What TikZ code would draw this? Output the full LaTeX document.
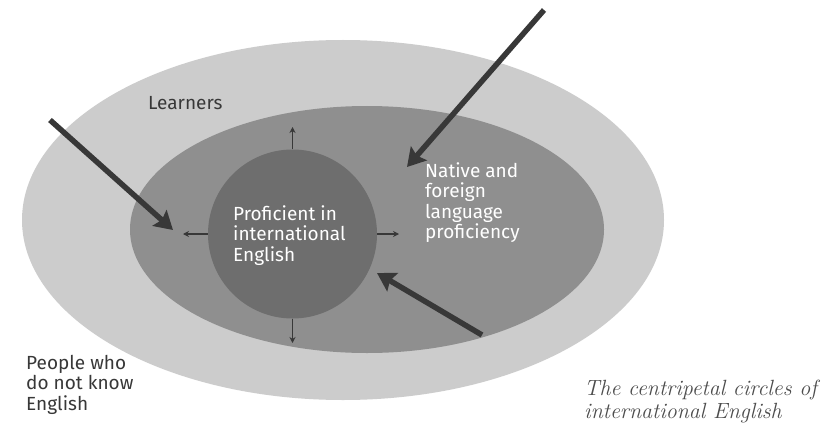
\documentclass[tikz,border=0pt]{standalone}
\usepackage{fontspec}
\setsansfont{Fira Sans}
\usetikzlibrary{shapes.geometric,arrows.meta,positioning}
\definecolor{ringlight}{gray}{0.80}
\definecolor{ringmid}{gray}{0.56}
\definecolor{ringcore}{gray}{0.43}
\definecolor{arrowgray}{gray}{0.22}
\definecolor{labelgray}{gray}{0.22}
\definecolor{captiongray}{gray}{0.30}

\begin{document}
\begin{tikzpicture}[x=1pt,y=-1pt,
  zone/.style={ellipse,inner sep=0pt},
  ringtext/.style={font=\sffamily\fontsize{19}{20.5}\selectfont,align=left,inner sep=0pt,anchor=north west},
  push/.style={line width=5.5pt,arrowgray,-{Stealth[length=18pt,width=21pt,inset=3pt]}},
  spread/.style={line width=1.3pt,arrowgray,-{Stealth[length=6pt,width=6pt]}}]
\useasboundingbox (0,0) rectangle (829,441);
\fill[white] (0,0) rectangle (829,441);
% the three centripetal circles
\node[zone,fill=ringlight,minimum width=642pt,minimum height=360pt] (outer) at (343,220) {};
\node[zone,fill=ringmid,minimum width=474pt,minimum height=247pt] (middle) at (367,229.5) {};
\node[circle,fill=ringcore,minimum size=169pt,inner sep=0pt] (core) at (292.5,234) {};
% small arrows out of the core
\coordinate (up) at (292.5,127);
\coordinate (down) at (292.5,343);
\coordinate (left) at (183,234);
\coordinate (right) at (399,234);
\draw[spread] (core.north) -- (up);
\draw[spread] (core.south) -- (down);
\draw[spread] (core.west) -- (left);
\draw[spread] (core.east) -- (right);
% big arrows pointing inwards
\coordinate (learnstart) at (50,120);
\coordinate (learntip) at (173,230);
\coordinate (nativestart) at (544,10);
\coordinate (nativetip) at (407,167);
\coordinate (proftail) at (482,335);
\coordinate (proftip) at (377,273);
\draw[push] (learnstart) -- (learntip);
\draw[push] (nativestart) -- (nativetip);
\draw[push] (proftail) -- (proftip);
% texts
\node[ringtext,text=white] (coretext) at (233,205) {Proficient in\\international\\English};
\node[ringtext,text=white] (middletext) at (425,162) {Native and\\foreign\\language\\proficiency};
\node[ringtext,text=labelgray,anchor=base west] (learners) at (148,110) {Learners};
\node[ringtext,text=labelgray] (outsiders) at (26,355) {People who\\do not know\\English};
\node[font=\rmfamily\itshape\fontsize{22}{23}\selectfont,text=captiongray,align=left,inner sep=0pt,anchor=north west] (caption) at (584,380) {The centripetal circles of\\international English};
\end{tikzpicture}
\end{document}
